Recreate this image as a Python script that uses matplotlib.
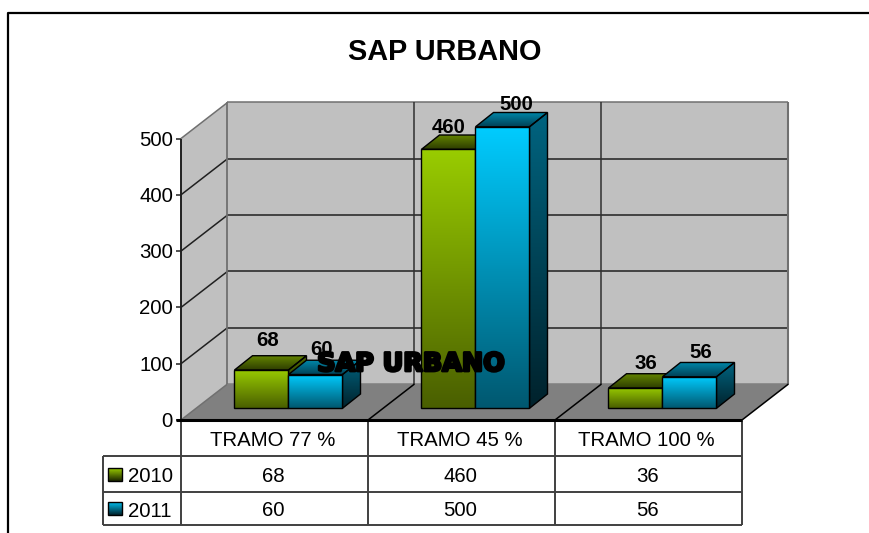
import numpy as np
import matplotlib
matplotlib.use('Agg')
import matplotlib.pyplot as plt
from matplotlib.colors import LinearSegmentedColormap
from matplotlib.patches import Polygon
import matplotlib.patheffects as pe

plt.rcParams['font.family'] = ['Liberation Sans', 'DejaVu Sans']

# Values
categories = ['TRAMO 77 %', 'TRAMO 45 %', 'TRAMO 100 %']
series_names = ['2010', '2011']
values_2010 = [68, 460, 36]
values_2011 = [60, 500, 56]
y_ticks = [0, 100, 200, 300, 400, 500]

W, H = 870, 533
fig = plt.figure(figsize=(W / 100, H / 100), dpi=100)

# front plane of the chart box: one unit per category, y in data values
left, right, y0_px, y500_px = 181, 742, 420, 138.5
ax = fig.add_axes([left / W, 1 - y0_px / H, (right - left) / W, (y0_px - y500_px) / H])
ax.set_xlim(0, 3)
ax.set_ylim(0, 500)
ax.set_autoscale_on(False)
ax.axis('off')

xpx = 3 / (right - left)         # data units per pixel, x
ypx = 500 / (y0_px - y500_px)    # data units per pixel, y
wall_dx, wall_dy = 46.5 * xpx, 36 * ypx
bar_dx, bar_dy = 18 * xpx, 14.3 * ypx
base = 11.7 * ypx                # bars stand a little back on the floor
bar_w = 54 * xpx
bar_start = 53.5 * xpx
font = 14.7


def line(xs, ys, color='black', lw=1.1, z=2):
    ax.plot(xs, ys, color=color, lw=lw, zorder=z, clip_on=False, solid_capstyle='butt')


def gradient_face(pts, c1, c2, z):
    # vertical gradient c1 (top) to c2 (bottom), clipped to the polygon
    pts = np.array(pts)
    cmap = LinearSegmentedColormap.from_list('g', [c1, c2])
    ext = [pts[:, 0].min(), pts[:, 0].max(), pts[:, 1].min(), pts[:, 1].max()]
    im = ax.imshow(np.linspace(0, 1, 128)[:, None], cmap=cmap, extent=ext, origin='upper',
                   aspect='auto', zorder=z, interpolation='bilinear')
    poly = Polygon(pts, closed=True, transform=ax.transData, fc='none', ec='none')
    ax.add_patch(poly)
    poly.set_clip_on(False)
    im.set_clip_box(fig.bbox)
    im.set_clip_path(poly)
    edge = Polygon(pts, closed=True, fc='none', ec='black', lw=1.0, zorder=z + 0.01, clip_on=False)
    ax.add_patch(edge)


# walls and floor
ax.add_patch(Polygon([(0, 0), (wall_dx, wall_dy), (wall_dx, 500 + wall_dy), (0, 500)],
                     fc='#C0C0C0', ec='none', zorder=1, clip_on=False))
ax.add_patch(Polygon([(wall_dx, wall_dy), (3 + wall_dx, wall_dy), (3 + wall_dx, 500 + wall_dy), (wall_dx, 500 + wall_dy)],
                     fc='#C0C0C0', ec='none', zorder=1, clip_on=False))
ax.add_patch(Polygon([(0, 0), (3, 0), (3 + wall_dx, wall_dy), (wall_dx, wall_dy)],
                     fc='#808080', ec='none', zorder=1, clip_on=False))

# gridlines on the walls
for t in y_ticks:
    c = '#707070' if t in (0, 500) else '#202020'
    line([0, wall_dx], [t, t + wall_dy], color=c)
    line([wall_dx, 3 + wall_dx], [t + wall_dy, t + wall_dy], color=c if t else '#808080')
    line([-5 * xpx, 0], [t, t], color='#202020')
for i in range(1, 3):
    line([i + wall_dx] * 2, [wall_dy, 500 + wall_dy], color='#303030')
    line([i, i + wall_dx], [0, wall_dy], color='black')
line([wall_dx] * 2, [wall_dy, 500 + wall_dy], color='#707070', lw=1.3)
line([3 + wall_dx] * 2, [wall_dy, 500 + wall_dy], color='#707070', lw=1.5)
line([3, 3 + wall_dx], [0, wall_dy], color='black')
line([0, 0], [0, 500], color='#202020', lw=1.4)
line([-5 * xpx, 3], [0, 0], color='black', lw=2.2, z=3)

for t in y_ticks:
    ax.text(-8 * xpx, t - 1.5 * ypx, str(t), ha='right', va='center', fontsize=font, color='black')

# bars
styles = [
    dict(front=('#99CC00', '#4A5F00'), side=('#4C6600', '#263300'), top=('#668800', '#2E3D00')),
    dict(front=('#00CCFF', '#005870'), side=('#006480', '#00222C'), top=('#0088AA', '#004055')),
]
# label offsets in pixels, as the chart placed them
label_nudge = [[(6, 3), (0, -5), (10, -2)], [(6, -2), (14, -5), (11, -3)]]
for s, vals in enumerate([values_2010, values_2011]):
    st = styles[s]
    for i, v in enumerate(vals):
        x0 = i + bar_start + s * bar_w
        x1 = x0 + bar_w
        top = base + v
        z = 10 + s * 2 + i * 3
        gradient_face([(x1, base), (x1 + bar_dx, base + bar_dy), (x1 + bar_dx, top + bar_dy), (x1, top)],
                      st['side'][0], st['side'][1], z)
        gradient_face([(x0, top), (x1, top), (x1 + bar_dx, top + bar_dy), (x0 + bar_dx, top + bar_dy)],
                      st['top'][0], st['top'][1], z)
        gradient_face([(x0, base), (x1, base), (x1, top), (x0, top)],
                      st['front'][0], st['front'][1], z + 0.5)
        nx, ny = label_nudge[s][i]
        ax.text((x0 + x1) / 2 + nx * xpx, top + bar_dy + (3 + ny) * ypx, str(v), ha='center', va='bottom',
                fontsize=font, fontweight='bold', color='black', zorder=30, clip_on=False)

# data table
row1, row2, row3 = -36 * ypx, -72 * ypx, -104.5 * ypx
tc = '#404040'
line([0, 3], [row1, row1], color=tc, lw=1.4)
line([-78 * xpx, 3], [row2, row2], color=tc, lw=1.4)
line([-78 * xpx, 3], [row3, row3], color=tc, lw=1.4)
line([-78 * xpx] * 2, [row1, row3], color=tc, lw=1.4)
for i in range(4):
    line([i, i], [0, row3], color=tc, lw=1.4)
line([-78 * xpx, 0], [row1, row1], color=tc, lw=1.4)
for i, c in enumerate(categories):
    ax.text(i + .5 - 2 * xpx, row1 / 2 - 2.5 * ypx, c, ha='center', va='center', fontsize=font)
for s, vals in enumerate([values_2010, values_2011]):
    ymid = (row1 + row2) / 2 if s == 0 else (row2 + row3) / 2
    for i, v in enumerate(vals):
        ax.text(i + .5 - 1 * xpx, ymid - 2 * ypx, str(v), ha='center', va='center', fontsize=font)
    ax.text(-53 * xpx, ymid - 3 * ypx, series_names[s], ha='left', va='center', fontsize=font)
    key = [(-73 * xpx, ymid - 6.5 * ypx), (-59.5 * xpx, ymid - 6.5 * ypx), (-59.5 * xpx, ymid + 6.5 * ypx), (-73 * xpx, ymid + 6.5 * ypx)]
    gradient_face(key, styles[s]['front'][0], '#1C2600' if s == 0 else '#00222C', 6)

# titles
fig.text(445 / W, 1 - 51.5 / H, 'SAP URBANO', ha='center', va='center', fontsize=20.8, fontweight='bold')
fig.text(411 / W, 1 - 364 / H, 'SAP URBANO', ha='center', va='center', fontsize=18.3, fontweight='bold',
         family='DejaVu Sans', color='black', zorder=40,
         path_effects=[pe.withStroke(linewidth=2, foreground='black')])

# outer frame of the pasted picture
fig.add_artist(plt.Line2D([8 / W, 8 / W, 1], [0, 1 - 13 / H, 1 - 13 / H], color='black', lw=1.6))

fig.savefig('out.png', dpi=100)
